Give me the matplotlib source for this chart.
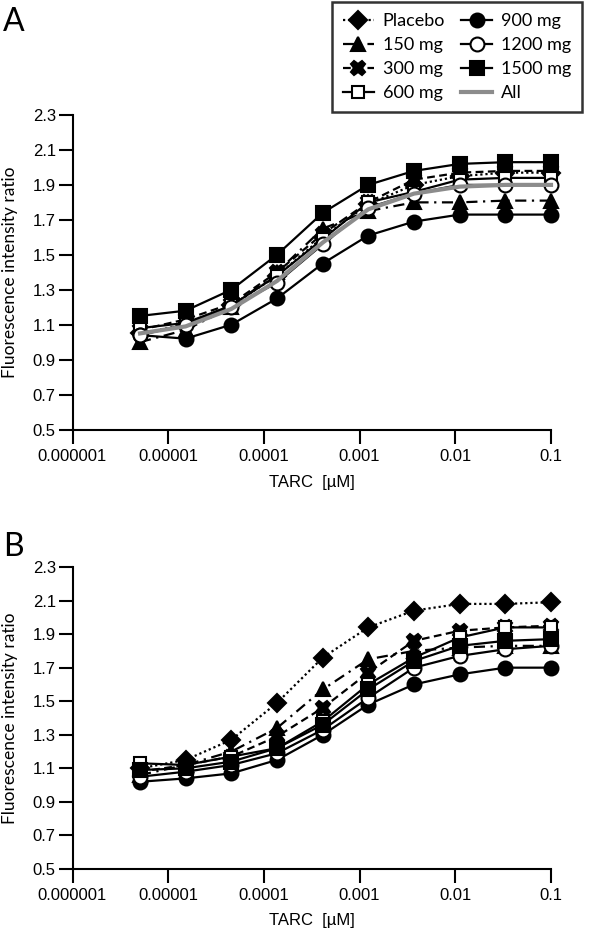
import matplotlib
matplotlib.use("Agg")
import matplotlib.pyplot as plt

# ---- data ----
conc = [5.08e-6, 1.52e-5, 4.57e-5, 1.37e-4, 4.12e-4, 1.23e-3, 3.70e-3, 1.11e-2, 3.33e-2, 1.0e-1]

a_placebo = [1.05, 1.10, 1.21, 1.38, 1.60, 1.79, 1.90, 1.95, 1.97, 1.97]
a_150 = [1.00, 1.07, 1.20, 1.40, 1.65, 1.75, 1.80, 1.80, 1.81, 1.81]
a_300 = [1.07, 1.13, 1.22, 1.40, 1.62, 1.80, 1.93, 1.97, 1.98, 1.98]
a_600 = [1.08, 1.11, 1.21, 1.38, 1.59, 1.80, 1.86, 1.93, 1.94, 1.94]
a_900 = [1.04, 1.02, 1.10, 1.25, 1.45, 1.61, 1.69, 1.73, 1.73, 1.73]
a_1200 = [1.04, 1.10, 1.20, 1.34, 1.56, 1.77, 1.85, 1.90, 1.90, 1.90]
a_1500 = [1.15, 1.18, 1.30, 1.50, 1.74, 1.90, 1.98, 2.02, 2.03, 2.03]
a_all = [1.05, 1.09, 1.19, 1.35, 1.57, 1.76, 1.85, 1.89, 1.90, 1.90]

b_placebo = [1.10, 1.15, 1.27, 1.49, 1.76, 1.94, 2.04, 2.08, 2.08, 2.09]
b_150 = [1.06, 1.12, 1.20, 1.34, 1.57, 1.75, 1.80, 1.82, 1.83, 1.83]
b_300 = [1.08, 1.12, 1.17, 1.29, 1.46, 1.67, 1.86, 1.92, 1.94, 1.95]
b_600 = [1.13, 1.12, 1.17, 1.22, 1.38, 1.60, 1.76, 1.88, 1.94, 1.94]
b_900 = [1.02, 1.04, 1.07, 1.15, 1.30, 1.48, 1.60, 1.66, 1.70, 1.70]
b_1200 = [1.05, 1.08, 1.12, 1.19, 1.33, 1.52, 1.70, 1.77, 1.81, 1.83]
b_1500 = [1.09, 1.10, 1.14, 1.22, 1.36, 1.57, 1.74, 1.83, 1.86, 1.87]

labels = ["Placebo", "150 mg", "300 mg", "600 mg", "900 mg", "1200 mg", "1500 mg", "All"]
xticks = [1e-6, 1e-5, 1e-4, 1e-3, 1e-2, 1e-1]
xticklabels = ["0.000001", "0.00001", "0.0001", "0.001", "0.01", "0.1"]
yticks = [0.5, 0.7, 0.9, 1.1, 1.3, 1.5, 1.7, 1.9, 2.1, 2.3]
yticklabels = ["0.5", "0.7", "0.9", "1.1", "1.3", "1.5", "1.7", "1.9", "2.1", "2.3"]

styles = {
    "Placebo": dict(ls=(0, (1, 1.3)), marker="D", mfc="black", ms=9),
    "150 mg": dict(ls=(0, (5, 2.5, 1, 2.5)), marker="^", mfc="black", ms=10),
    "300 mg": dict(ls=(0, (3.5, 2)), marker="X", mfc="black", ms=10.5),
    "600 mg": dict(ls="-", marker="s", mfc="white", ms=9),
    "900 mg": dict(ls="-", marker="o", mfc="black", ms=10),
    "1200 mg": dict(ls="-", marker="o", mfc="white", ms=10),
    "1500 mg": dict(ls="-", marker="s", mfc="black", ms=9.5),
}

W, H = 600, 931
fig = plt.figure(figsize=(W / 100, H / 100), dpi=100)

tick_font = dict(family=["Liberation Sans", "DejaVu Sans"], size=12)
lab_font = ["Lato", "DejaVu Sans"]


def setup(ax):
    ax.set_xscale("log")
    ax.set_xlim(1e-6, 1e-1)
    ax.set_ylim(0.5, 2.3)
    ax.set_xticks(xticks)
    ax.set_xticklabels(xticklabels, **tick_font)
    ax.minorticks_off()
    ax.set_yticks(yticks)
    ax.set_yticklabels(yticklabels, **tick_font)
    for s in ["top", "right"]:
        ax.spines[s].set_visible(False)
    for s in ["left", "bottom"]:
        ax.spines[s].set_linewidth(1.5)
    ax.tick_params(axis="both", direction="out", length=10, width=1.5, pad=2, colors="black")
    ax.tick_params(axis="x", pad=4)
    ax.set_ylabel("Fluorescence intensity ratio", fontsize=12.5, family=lab_font)
    ax.yaxis.set_label_coords(-0.113, 0.5)
    ax.set_xlabel("TARC  [\u00b5M]", fontsize=12, family=["Liberation Sans", "DejaVu Sans"])
    ax.xaxis.set_label_coords(0.5, -0.145)


def plot_series(ax, data):
    handles = []
    for name, vals in data:
        st = styles[name]
        h, = ax.plot(conc, vals, color="black", lw=1.6, linestyle=st["ls"],
                     marker=st["marker"], mfc=st["mfc"], mec="black", mew=1.5,
                     ms=st["ms"], clip_on=False, zorder=3)
        handles.append(h)
    return handles


axA = fig.add_axes([72.5 / W, 1 - 429.5 / H, (551 - 72.5) / W, (429.5 - 115) / H])
setup(axA)
hA = plot_series(axA, [("Placebo", a_placebo), ("150 mg", a_150), ("300 mg", a_300),
                       ("600 mg", a_600), ("900 mg", a_900), ("1200 mg", a_1200),
                       ("1500 mg", a_1500)])
hall, = axA.plot(conc, a_all, color="#8c8c8c", lw=3, clip_on=False, zorder=4)

axB = fig.add_axes([72.5 / W, 1 - 869 / H, (551 - 72.5) / W, (869 - 567) / H])
setup(axB)
plot_series(axB, [("Placebo", b_placebo), ("150 mg", b_150), ("300 mg", b_300),
                  ("600 mg", b_600), ("900 mg", b_900), ("1200 mg", b_1200),
                  ("1500 mg", b_1500)])

fig.text(3 / W, 1 - 22 / H, "A", fontsize=23, family=lab_font, va="center", ha="left")
fig.text(3 / W, 1 - 547 / H, "B", fontsize=23, family=lab_font, va="center", ha="left")

leg = fig.legend(hA + [hall], labels, loc="upper left", bbox_to_anchor=(332 / W, 1 - 2 / H),
                 ncol=2, frameon=True, fancybox=False, edgecolor="black",
                 prop={"family": lab_font, "size": 13}, handlelength=1.7,
                 handletextpad=0.5, columnspacing=0.9, labelspacing=0.45,
                 borderpad=0.6, borderaxespad=0, markerscale=1.0)
leg.get_frame().set_linewidth(1.8)

fig.savefig("out.png", dpi=100)
